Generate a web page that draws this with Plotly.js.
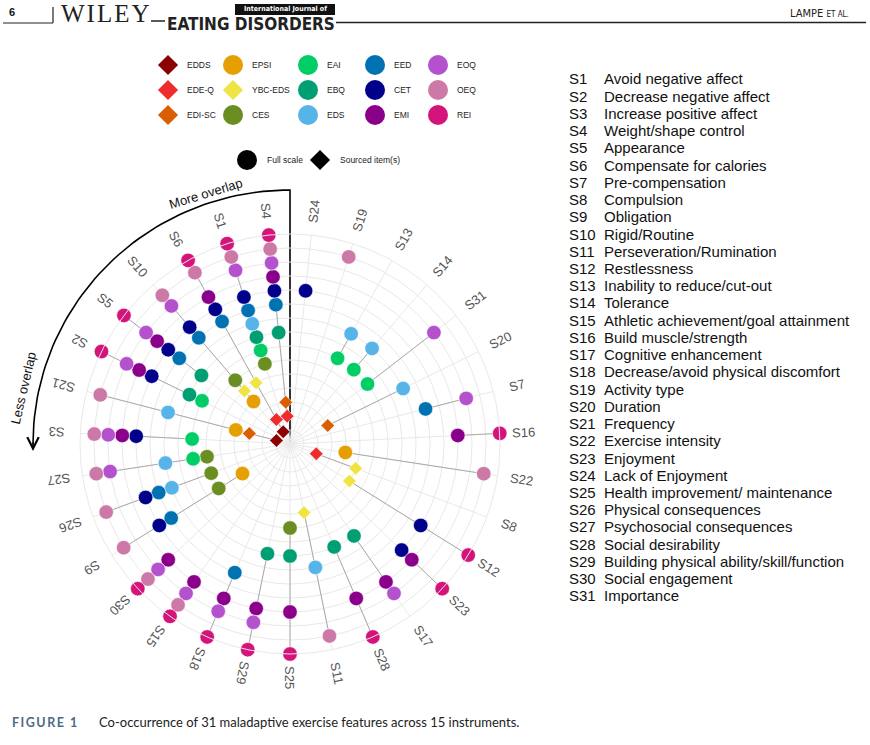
<!DOCTYPE html>
<html><head><meta charset="utf-8">
<script src="https://cdn.plot.ly/plotly-3.0.1.min.js"></script>
<style>html,body{margin:0;padding:0;background:#fff}#chart{width:870px;height:745px}</style>
</head><body><div id="chart"></div>
<script>
// ---------------- DATA ----------------
// spokes in angular order (counter-clockwise from top)
const spokes = ["S4","S1","S6","S10","S5","S2","S21","S3","S27","S26","S9","S30","S15","S18","S29","S25","S11","S28","S17","S23","S12","S8","S22","S16","S7","S20","S31","S14","S13","S19","S24"];
// instruments in radial order (inner -> outer)
const instruments = ["EDDS","EDE-Q","EDI-SC","EPSI","YBC-EDS","CES","EAI","EBQ","EDS","EED","CET","EMI","EOQ","OEQ","REI"];
const instrumentKind = ["item","item","item","full","item","full","full","full","full","full","full","full","full","full","full"];
const instrumentColors = ["#8B0000","#EE2C2C","#D95F02","#E69F00","#F0E442","#6B8E23","#00CD66","#009E73","#56B4E9","#0072B2","#00008B","#8B008B","#B452CD","#CC79A7","#D4147A"];
// features covered by each instrument
const cov_EDDS   = ["S6","S21"];
const cov_EDEQ   = ["S4","S6","S8"];
const cov_EDISC  = ["S4","S21","S20"];
const cov_EPSI   = ["S10","S21","S9","S22"];
const cov_YBCEDS = ["S6","S10","S11","S12","S8"];
const cov_CES    = ["S1","S10","S27","S26","S9","S25"];
const cov_EAI    = ["S1","S2","S3","S27","S31","S14","S13"];
const cov_EBQ    = ["S4","S1","S5","S2","S29","S25","S28","S17"];
const cov_EDS    = ["S1","S21","S27","S26","S11","S20","S14","S13"];
const cov_EED    = ["S4","S1","S6","S10","S5","S26","S9","S18","S7"];
const cov_CET    = ["S4","S1","S6","S10","S5","S2","S3","S26","S9","S23","S12","S24"];
const cov_EMI    = ["S4","S6","S5","S2","S3","S30","S15","S18","S29","S25","S28","S17","S23","S16"];
const cov_EOQ    = ["S4","S1","S10","S5","S2","S3","S27","S30","S15","S18","S29","S17","S7","S31"];
const cov_OEQ    = ["S4","S1","S6","S10","S21","S3","S27","S26","S9","S30","S15","S11","S22","S19"];
const cov_REI    = ["S4","S1","S6","S5","S2","S30","S15","S18","S29","S25","S28","S23","S12","S16"];
const coverage = [cov_EDDS,cov_EDEQ,cov_EDISC,cov_EPSI,cov_YBCEDS,cov_CES,cov_EAI,cov_EBQ,cov_EDS,cov_EED,cov_CET,cov_EMI,cov_EOQ,cov_OEQ,cov_REI];
// feature key
const featureCodes = ["S1","S2","S3","S4","S5","S6","S7","S8","S9","S10","S11","S12","S13","S14","S15","S16","S17","S18","S19","S20","S21","S22","S23","S24","S25","S26","S27","S28","S29","S30","S31"];
const featureNames = ["Avoid negative affect","Decrease negative affect","Increase positive affect","Weight/shape control","Appearance","Compensate for calories","Pre-compensation","Compulsion","Obligation","Rigid/Routine","Perseveration/Rumination","Restlessness","Inability to reduce/cut-out","Tolerance","Athletic achievement/goal attainment","Build muscle/strength","Cognitive enhancement","Decrease/avoid physical discomfort","Activity type","Duration","Frequency","Exercise intensity","Enjoyment","Lack of Enjoyment","Health improvement/ maintenance","Physical consequences","Psychosocial consequences","Social desirability","Building physical ability/skill/function","Social engagement","Importance"];

// ---------------- LAYOUT HELPERS ----------------
const W=870, H=745;
const px = x => x/W, py = y => 1 - y/H;
const CX=290, CY=444, R=210;
const n = spokes.length;
const rot = 90 + 180/n;
const angleOf = k => rot + k*360/n;
const FONT = "Liberation Sans, Arial, sans-serif";
const NARROW = "Liberation Sans Narrow, DejaVu Sans Condensed, Arial Narrow, sans-serif";

const traces = [];
const annotations = [];
const shapes = [];

// spoke connecting lines
spokes.forEach(s => {
  const idx = [];
  coverage.forEach((c,i) => { if (c.includes(s)) idx.push(i+1); });
  if (idx.length > 1) {
    traces.push({type:'scatterpolar', mode:'lines', r:[Math.min(...idx), Math.max(...idx)], theta:[s,s],
      line:{color:'#a9a9a9', width:1}, hoverinfo:'skip', showlegend:false});
  }
});
// instrument markers
instruments.forEach((name,i) => {
  const item = instrumentKind[i] === 'item';
  traces.push({type:'scatterpolar', mode:'markers', name:name,
    r: coverage[i].map(() => i+1), theta: coverage[i],
    marker:{color:instrumentColors[i], size: item ? 10.5 : 14.5, symbol: item ? 'diamond' : 'circle',
      line:{color:'#ffffff', width:0.6}}, showlegend:false});
});

// spoke labels
const LR = 234;
spokes.forEach((s,k) => {
  const a = angleOf(k);
  const rad = a*Math.PI/180;
  let ta = (a > 90 && a < 150) ? -(a+180) : -a;
  while (ta > 180) ta -= 360;
  while (ta < -180) ta += 360;
  annotations.push({xref:'paper', yref:'paper', x:px(CX + LR*Math.cos(rad)), y:py(CY - LR*Math.sin(rad)),
    text:s, showarrow:false, textangle:ta, xanchor:'center', yanchor:'middle',
    font:{family:FONT, size:13, color:'#555555'}});
});

// overlap arc + vertical line (overlay cartesian axes in pixel units)
const ARX = 257, ARY = 254;
const ax_ = [CX, CX], ay_ = [CY, CY-ARY];
for (let a = 90; a <= 180.001; a += 1.5) {
  ax_.push(CX + ARX*Math.cos(a*Math.PI/180));
  ay_.push(CY - ARY*Math.sin(a*Math.PI/180));
}
traces.push({type:'scatter', mode:'lines', x:ax_, y:ay_, line:{color:'#000', width:1.6}, hoverinfo:'skip', showlegend:false, cliponaxis:false});
annotations.push({xref:'x', yref:'y', x:CX-ARX, y:CY+7, ax:0, ay:-10, axref:'pixel', ayref:'pixel', text:'', showarrow:true, arrowhead:5, arrowsize:1.4, arrowwidth:1.6, arrowcolor:'#000'});
annotations.push({xref:'paper', yref:'paper', x:px(206), y:py(194), text:'More overlap', showarrow:false, textangle:-17, xanchor:'center', yanchor:'middle', font:{family:FONT, size:13, color:'#111'}});
annotations.push({xref:'paper', yref:'paper', x:px(24), y:py(388), text:'Less overlap', showarrow:false, textangle:-77, xanchor:'center', yanchor:'middle', font:{family:FONT, size:13, color:'#111'}});

// manual legend
const legendColX = [168, 233, 308, 375, 438];
const legendRowY = [65, 90, 115];
instruments.forEach((name,i) => {
  const col = Math.floor(i/3), row = i%3;
  const item = instrumentKind[i] === 'item';
  traces.push({type:'scatter', mode:'markers', x:[legendColX[col]], y:[legendRowY[row]],
    marker:{color:instrumentColors[i], size: item ? 15.5 : 20, symbol: item ? 'diamond' : 'circle', line:{width:0}},
    hoverinfo:'skip', showlegend:false, cliponaxis:false});
  annotations.push({xref:'x', yref:'y', x:legendColX[col]+17, y:legendRowY[row], text:name, showarrow:false,
    xanchor:'left', yanchor:'middle', font:{family:FONT, size:8.5, color:'#222'}});
});
const kindLegend = [["Full scale","circle",247,20],["Sourced item(s)","diamond",320,15.5]];
kindLegend.forEach(([t,sym,x,sz]) => {
  traces.push({type:'scatter', mode:'markers', x:[x], y:[160], marker:{color:'#000', size:sz, symbol:sym, line:{width:0}},
    hoverinfo:'skip', showlegend:false, cliponaxis:false});
  annotations.push({xref:'x', yref:'y', x:x+18, y:160, text:t, showarrow:false, xanchor:'left', yanchor:'middle',
    font:{family:FONT, size:8.5, color:'#222'}});
});

// feature key list
featureCodes.forEach((c,i) => {
  const y = 79 + i*17.23;
  annotations.push({xref:'paper', yref:'paper', x:px(567), y:py(y), text:c, showarrow:false, xanchor:'left', yanchor:'middle',
    font:{family:FONT, size:15, color:'#111'}});
  annotations.push({xref:'paper', yref:'paper', x:px(602), y:py(y), text:featureNames[i], showarrow:false, xanchor:'left', yanchor:'middle',
    font:{family:FONT, size:15, color:'#111'}});
});

// header
shapes.push({type:'line', xref:'paper', yref:'paper', x0:px(3), x1:px(53), y0:py(23), y1:py(23), line:{color:'#222', width:1.2}});
shapes.push({type:'line', xref:'paper', yref:'paper', x0:px(53), x1:px(53), y0:py(7), y1:py(23), line:{color:'#222', width:1.2}});
shapes.push({type:'line', xref:'paper', yref:'paper', x0:px(151), x1:px(165), y0:py(21), y1:py(21), line:{color:'#222', width:1.5}});
shapes.push({type:'line', xref:'paper', yref:'paper', x0:px(336), x1:px(866), y0:py(22.5), y1:py(22.5), line:{color:'#222', width:1.5}});
shapes.push({type:'rect', xref:'paper', yref:'paper', x0:px(235), x1:px(335), y0:py(15), y1:py(4), fillcolor:'#111', line:{width:0}});
annotations.push({xref:'paper', yref:'paper', x:px(12), y:py(12), text:'<b>6</b>', showarrow:false, xanchor:'center', yanchor:'middle', font:{family:FONT, size:11, color:'#111'}});
annotations.push({xref:'paper', yref:'paper', x:px(59), y:py(14), text:'<span style="letter-spacing:2px">WILEY</span>', showarrow:false, xanchor:'left', yanchor:'middle', font:{family:"Liberation Serif, Times New Roman, serif", size:25, color:'#222'}});
annotations.push({xref:'paper', yref:'paper', x:px(285), y:py(9.5), text:'<b>International Journal of</b>', showarrow:false, xanchor:'center', yanchor:'middle', font:{family:NARROW, size:7, color:'#fff'}});
annotations.push({xref:'paper', yref:'paper', x:px(165), y:py(24.5), text:'<b>EATING DISORDERS</b>', showarrow:false, xanchor:'left', yanchor:'middle', font:{family:NARROW, size:17, color:'#222'}});
annotations.push({xref:'paper', yref:'paper', x:px(851), y:py(13), text:'LAMPE <span style="font-size:8px">ET AL.</span>', showarrow:false, xanchor:'right', yanchor:'middle', font:{family:NARROW, size:11, color:'#222'}});

// caption
annotations.push({xref:'paper', yref:'paper', x:px(10), y:py(722), text:'<b><span style="letter-spacing:1.5px">FIGURE 1</span></b>', showarrow:false, xanchor:'left', yanchor:'middle', font:{family:"Lato, Open Sans, sans-serif", size:12.5, color:'#4d6a88'}});
annotations.push({xref:'paper', yref:'paper', x:px(97), y:py(722), text:'Co-occurrence of 31 maladaptive exercise features across 15 instruments.', showarrow:false, xanchor:'left', yanchor:'middle', font:{family:"Lato, Open Sans, sans-serif", size:13, color:'#222'}});

const layout = {
  width:W, height:H, margin:{l:0,r:0,t:0,b:0}, paper_bgcolor:'#fff', plot_bgcolor:'rgba(0,0,0,0)',
  showlegend:false, dragmode:false,
  xaxis:{domain:[0,1], range:[0,W], visible:false, fixedrange:true},
  yaxis:{domain:[0,1], range:[H,0], visible:false, fixedrange:true},
  polar:{
    domain:{x:[px(CX-R), px(CX+R)], y:[py(CY+R), py(CY-R)]},
    bgcolor:'rgba(0,0,0,0)',
    radialaxis:{range:[0,15], tick0:0, dtick:1, showticklabels:false, ticks:'', showline:false, gridcolor:'#e9e9e9', gridwidth:1},
    angularaxis:{type:'category', categoryorder:'array', categoryarray:spokes, direction:'counterclockwise', rotation:rot,
      showticklabels:false, ticks:'', gridcolor:'#e9e9e9', gridwidth:1, showline:true, linecolor:'#e9e9e9', linewidth:1}
  },
  annotations:annotations, shapes:shapes
};
Plotly.newPlot('chart', traces, layout, {staticPlot:true, displayModeBar:false});
</script></body></html>
